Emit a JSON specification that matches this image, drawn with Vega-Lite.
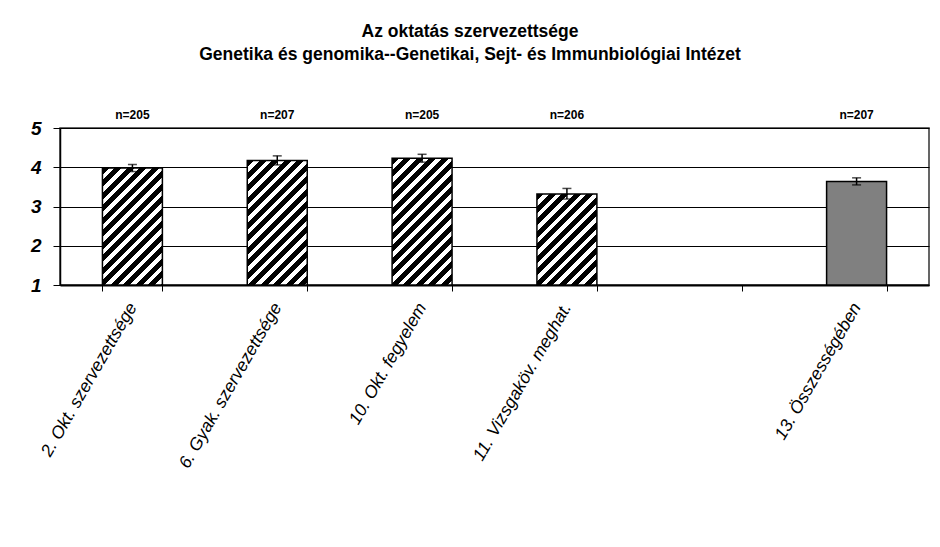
{
  "$schema": "https://vega.github.io/schema/vega-lite/v6.json",
  "width": 869,
  "height": 157,
  "autosize": {"type": "none"},
  "padding": {"left": 60, "top": 128, "right": 11, "bottom": 262},
  "background": "white",
  "title": {
    "text": ["Az oktatás szervezettsége", "Genetika és genomika--Genetikai, Sejt- és Immunbiológiai Intézet"],
    "font": "Liberation Sans",
    "fontSize": 17.5,
    "fontWeight": "bold",
    "color": "black",
    "anchor": "middle",
    "frame": "group",
    "dx": -24.5,
    "offset": 46,
    "lineHeight": 23
  },
  "data": {
    "values": [
      {"cat": "2. Okt. szervezettsége", "mean": 3.98, "lo": 3.89, "hi": 4.07, "n": "n=205"},
      {"cat": "6. Gyak. szervezettsége", "mean": 4.17, "lo": 4.06, "hi": 4.29, "n": "n=207"},
      {"cat": "10. Okt. fegyelem", "mean": 4.23, "lo": 4.13, "hi": 4.33, "n": "n=205"},
      {"cat": "11. Vizsgaköv. meghat.", "mean": 3.32, "lo": 3.19, "hi": 3.46, "n": "n=206"},
      {"cat": "13. Összességében", "mean": 3.64, "lo": 3.55, "hi": 3.73, "n": "n=207"}
    ]
  },
  "encoding": {
    "x": {
      "field": "cat",
      "type": "nominal",
      "title": null,
      "scale": {
        "domain": ["2. Okt. szervezettsége", "6. Gyak. szervezettsége", "10. Okt. fegyelem", "11. Vizsgaköv. meghat.", " ", "13. Összességében"],
        "paddingInner": 0.586,
        "paddingOuter": 0.293
      },
      "axis": {
        "title": null,
        "labelAngle": -60,
        "labelAlign": "right",
        "labelBaseline": "middle",
        "labelFont": "Liberation Sans",
        "labelFontSize": 17.5,
        "labelFontStyle": "italic",
        "labelFontWeight": "normal",
        "labelColor": "black",
        "labelPadding": 13,
        "labelLimit": 400,
        "tickSize": 6,
        "tickBand": "extent",
        "tickColor": "black",
        "tickWidth": 1,
        "domainColor": "black",
        "domainWidth": 2,
        "grid": false
      }
    }
  },
  "layer": [
    {
      "mark": {"type": "bar", "stroke": "black", "strokeWidth": 1.5},
      "encoding": {
        "y": {
          "field": "mean",
          "type": "quantitative",
          "title": null,
          "scale": {"domain": [1, 5], "nice": false, "zero": false}
        },
        "y2": {"datum": 1},
        "fill": {
          "condition": [
            {"test": "datum.cat === '2. Okt. szervezettsége'", "value": {"gradient": "linear", "x1": 0, "y1": 0, "x2": 1.0851, "y2": 2.1154, "stops": [{"offset":0,"color":"#000"},{"offset":0.022,"color":"#000"},{"offset":0.022,"color":"#fff"},{"offset":0.04,"color":"#fff"},{"offset":0.04,"color":"#000"},{"offset":0.062,"color":"#000"},{"offset":0.062,"color":"#fff"},{"offset":0.08,"color":"#fff"},{"offset":0.08,"color":"#000"},{"offset":0.102,"color":"#000"},{"offset":0.102,"color":"#fff"},{"offset":0.12,"color":"#fff"},{"offset":0.12,"color":"#000"},{"offset":0.142,"color":"#000"},{"offset":0.142,"color":"#fff"},{"offset":0.16,"color":"#fff"},{"offset":0.16,"color":"#000"},{"offset":0.182,"color":"#000"},{"offset":0.182,"color":"#fff"},{"offset":0.2,"color":"#fff"},{"offset":0.2,"color":"#000"},{"offset":0.222,"color":"#000"},{"offset":0.222,"color":"#fff"},{"offset":0.24,"color":"#fff"},{"offset":0.24,"color":"#000"},{"offset":0.262,"color":"#000"},{"offset":0.262,"color":"#fff"},{"offset":0.28,"color":"#fff"},{"offset":0.28,"color":"#000"},{"offset":0.302,"color":"#000"},{"offset":0.302,"color":"#fff"},{"offset":0.32,"color":"#fff"},{"offset":0.32,"color":"#000"},{"offset":0.342,"color":"#000"},{"offset":0.342,"color":"#fff"},{"offset":0.36,"color":"#fff"},{"offset":0.36,"color":"#000"},{"offset":0.382,"color":"#000"},{"offset":0.382,"color":"#fff"},{"offset":0.4,"color":"#fff"},{"offset":0.4,"color":"#000"},{"offset":0.422,"color":"#000"},{"offset":0.422,"color":"#fff"},{"offset":0.44,"color":"#fff"},{"offset":0.44,"color":"#000"},{"offset":0.462,"color":"#000"},{"offset":0.462,"color":"#fff"},{"offset":0.48,"color":"#fff"},{"offset":0.48,"color":"#000"},{"offset":0.502,"color":"#000"},{"offset":0.502,"color":"#fff"},{"offset":0.52,"color":"#fff"},{"offset":0.52,"color":"#000"},{"offset":0.542,"color":"#000"},{"offset":0.542,"color":"#fff"},{"offset":0.56,"color":"#fff"},{"offset":0.56,"color":"#000"},{"offset":0.582,"color":"#000"},{"offset":0.582,"color":"#fff"},{"offset":0.6,"color":"#fff"},{"offset":0.6,"color":"#000"},{"offset":0.622,"color":"#000"},{"offset":0.622,"color":"#fff"},{"offset":0.64,"color":"#fff"}]}},
            {"test": "datum.cat === '6. Gyak. szervezettsége'", "value": {"gradient": "linear", "x1": 0, "y1": 0, "x2": 0.9827, "y2": 2.0378, "stops": [{"offset":0,"color":"#000"},{"offset":0.022,"color":"#000"},{"offset":0.022,"color":"#fff"},{"offset":0.04,"color":"#fff"},{"offset":0.04,"color":"#000"},{"offset":0.062,"color":"#000"},{"offset":0.062,"color":"#fff"},{"offset":0.08,"color":"#fff"},{"offset":0.08,"color":"#000"},{"offset":0.102,"color":"#000"},{"offset":0.102,"color":"#fff"},{"offset":0.12,"color":"#fff"},{"offset":0.12,"color":"#000"},{"offset":0.142,"color":"#000"},{"offset":0.142,"color":"#fff"},{"offset":0.16,"color":"#fff"},{"offset":0.16,"color":"#000"},{"offset":0.182,"color":"#000"},{"offset":0.182,"color":"#fff"},{"offset":0.2,"color":"#fff"},{"offset":0.2,"color":"#000"},{"offset":0.222,"color":"#000"},{"offset":0.222,"color":"#fff"},{"offset":0.24,"color":"#fff"},{"offset":0.24,"color":"#000"},{"offset":0.262,"color":"#000"},{"offset":0.262,"color":"#fff"},{"offset":0.28,"color":"#fff"},{"offset":0.28,"color":"#000"},{"offset":0.302,"color":"#000"},{"offset":0.302,"color":"#fff"},{"offset":0.32,"color":"#fff"},{"offset":0.32,"color":"#000"},{"offset":0.342,"color":"#000"},{"offset":0.342,"color":"#fff"},{"offset":0.36,"color":"#fff"},{"offset":0.36,"color":"#000"},{"offset":0.382,"color":"#000"},{"offset":0.382,"color":"#fff"},{"offset":0.4,"color":"#fff"},{"offset":0.4,"color":"#000"},{"offset":0.422,"color":"#000"},{"offset":0.422,"color":"#fff"},{"offset":0.44,"color":"#fff"},{"offset":0.44,"color":"#000"},{"offset":0.462,"color":"#000"},{"offset":0.462,"color":"#fff"},{"offset":0.48,"color":"#fff"},{"offset":0.48,"color":"#000"},{"offset":0.502,"color":"#000"},{"offset":0.502,"color":"#fff"},{"offset":0.52,"color":"#fff"},{"offset":0.52,"color":"#000"},{"offset":0.542,"color":"#000"},{"offset":0.542,"color":"#fff"},{"offset":0.56,"color":"#fff"},{"offset":0.56,"color":"#000"},{"offset":0.582,"color":"#000"},{"offset":0.582,"color":"#fff"},{"offset":0.6,"color":"#fff"},{"offset":0.6,"color":"#000"},{"offset":0.622,"color":"#000"},{"offset":0.622,"color":"#fff"},{"offset":0.64,"color":"#fff"}]}},
            {"test": "datum.cat === '10. Okt. fegyelem'", "value": {"gradient": "linear", "x1": 0, "y1": 0, "x2": 0.953, "y2": 2.0137, "stops": [{"offset":0,"color":"#000"},{"offset":0.022,"color":"#000"},{"offset":0.022,"color":"#fff"},{"offset":0.04,"color":"#fff"},{"offset":0.04,"color":"#000"},{"offset":0.062,"color":"#000"},{"offset":0.062,"color":"#fff"},{"offset":0.08,"color":"#fff"},{"offset":0.08,"color":"#000"},{"offset":0.102,"color":"#000"},{"offset":0.102,"color":"#fff"},{"offset":0.12,"color":"#fff"},{"offset":0.12,"color":"#000"},{"offset":0.142,"color":"#000"},{"offset":0.142,"color":"#fff"},{"offset":0.16,"color":"#fff"},{"offset":0.16,"color":"#000"},{"offset":0.182,"color":"#000"},{"offset":0.182,"color":"#fff"},{"offset":0.2,"color":"#fff"},{"offset":0.2,"color":"#000"},{"offset":0.222,"color":"#000"},{"offset":0.222,"color":"#fff"},{"offset":0.24,"color":"#fff"},{"offset":0.24,"color":"#000"},{"offset":0.262,"color":"#000"},{"offset":0.262,"color":"#fff"},{"offset":0.28,"color":"#fff"},{"offset":0.28,"color":"#000"},{"offset":0.302,"color":"#000"},{"offset":0.302,"color":"#fff"},{"offset":0.32,"color":"#fff"},{"offset":0.32,"color":"#000"},{"offset":0.342,"color":"#000"},{"offset":0.342,"color":"#fff"},{"offset":0.36,"color":"#fff"},{"offset":0.36,"color":"#000"},{"offset":0.382,"color":"#000"},{"offset":0.382,"color":"#fff"},{"offset":0.4,"color":"#fff"},{"offset":0.4,"color":"#000"},{"offset":0.422,"color":"#000"},{"offset":0.422,"color":"#fff"},{"offset":0.44,"color":"#fff"},{"offset":0.44,"color":"#000"},{"offset":0.462,"color":"#000"},{"offset":0.462,"color":"#fff"},{"offset":0.48,"color":"#fff"},{"offset":0.48,"color":"#000"},{"offset":0.502,"color":"#000"},{"offset":0.502,"color":"#fff"},{"offset":0.52,"color":"#fff"},{"offset":0.52,"color":"#000"},{"offset":0.542,"color":"#000"},{"offset":0.542,"color":"#fff"},{"offset":0.56,"color":"#fff"},{"offset":0.56,"color":"#000"},{"offset":0.582,"color":"#000"},{"offset":0.582,"color":"#fff"},{"offset":0.6,"color":"#fff"},{"offset":0.6,"color":"#000"},{"offset":0.622,"color":"#000"},{"offset":0.622,"color":"#fff"},{"offset":0.64,"color":"#fff"}]}},
            {"test": "datum.cat === '11. Vizsgaköv. meghat.'", "value": {"gradient": "linear", "x1": 0, "y1": 0, "x2": 1.5767, "y2": 2.3929, "stops": [{"offset":0,"color":"#000"},{"offset":0.022,"color":"#000"},{"offset":0.022,"color":"#fff"},{"offset":0.04,"color":"#fff"},{"offset":0.04,"color":"#000"},{"offset":0.062,"color":"#000"},{"offset":0.062,"color":"#fff"},{"offset":0.08,"color":"#fff"},{"offset":0.08,"color":"#000"},{"offset":0.102,"color":"#000"},{"offset":0.102,"color":"#fff"},{"offset":0.12,"color":"#fff"},{"offset":0.12,"color":"#000"},{"offset":0.142,"color":"#000"},{"offset":0.142,"color":"#fff"},{"offset":0.16,"color":"#fff"},{"offset":0.16,"color":"#000"},{"offset":0.182,"color":"#000"},{"offset":0.182,"color":"#fff"},{"offset":0.2,"color":"#fff"},{"offset":0.2,"color":"#000"},{"offset":0.222,"color":"#000"},{"offset":0.222,"color":"#fff"},{"offset":0.24,"color":"#fff"},{"offset":0.24,"color":"#000"},{"offset":0.262,"color":"#000"},{"offset":0.262,"color":"#fff"},{"offset":0.28,"color":"#fff"},{"offset":0.28,"color":"#000"},{"offset":0.302,"color":"#000"},{"offset":0.302,"color":"#fff"},{"offset":0.32,"color":"#fff"},{"offset":0.32,"color":"#000"},{"offset":0.342,"color":"#000"},{"offset":0.342,"color":"#fff"},{"offset":0.36,"color":"#fff"},{"offset":0.36,"color":"#000"},{"offset":0.382,"color":"#000"},{"offset":0.382,"color":"#fff"},{"offset":0.4,"color":"#fff"},{"offset":0.4,"color":"#000"},{"offset":0.422,"color":"#000"},{"offset":0.422,"color":"#fff"},{"offset":0.44,"color":"#fff"},{"offset":0.44,"color":"#000"},{"offset":0.462,"color":"#000"},{"offset":0.462,"color":"#fff"},{"offset":0.48,"color":"#fff"},{"offset":0.48,"color":"#000"},{"offset":0.502,"color":"#000"},{"offset":0.502,"color":"#fff"},{"offset":0.52,"color":"#fff"},{"offset":0.52,"color":"#000"},{"offset":0.542,"color":"#000"},{"offset":0.542,"color":"#fff"},{"offset":0.56,"color":"#fff"},{"offset":0.56,"color":"#000"},{"offset":0.582,"color":"#000"},{"offset":0.582,"color":"#fff"},{"offset":0.6,"color":"#fff"},{"offset":0.6,"color":"#000"},{"offset":0.622,"color":"#000"},{"offset":0.622,"color":"#fff"},{"offset":0.64,"color":"#fff"}]}}
          ],
          "value": "#808080"
        }
      }
    },
    {
      "mark": {"type": "rule", "color": "black", "strokeWidth": 1.5},
      "encoding": {
        "y": {"field": "lo", "type": "quantitative", "title": null},
        "y2": {"field": "hi"}
      }
    },
    {
      "mark": {"type": "tick", "color": "black", "thickness": 1.5, "size": 9},
      "encoding": {
        "y": {"field": "lo", "type": "quantitative", "title": null}
      }
    },
    {
      "mark": {"type": "tick", "color": "black", "thickness": 1.5, "size": 9},
      "encoding": {
        "y": {"field": "hi", "type": "quantitative", "title": null}
      }
    },
    {
      "mark": {"type": "text", "font": "Liberation Sans", "fontSize": 12, "fontWeight": "bold", "color": "black", "baseline": "middle"},
      "encoding": {
        "y": {"datum": 5.33, "type": "quantitative", "title": null},
        "text": {"field": "n"}
      }
    }
  ],
  "config": {
    "font": "Liberation Sans",
    "view": {"stroke": "#333333", "strokeWidth": 1.5},
    "axisY": {
      "tickCount": 4,
      "labelFont": "Liberation Sans",
      "labelFontSize": 19,
      "labelFontWeight": "bold",
      "labelFontStyle": "italic",
      "labelColor": "black",
      "labelPadding": 12,
      "tickSize": 7,
      "tickColor": "black",
      "domainColor": "black",
      "domainWidth": 1.5,
      "grid": true,
      "gridColor": "black",
      "gridOpacity": 1,
      "gridWidth": 1
    }
  }
}
